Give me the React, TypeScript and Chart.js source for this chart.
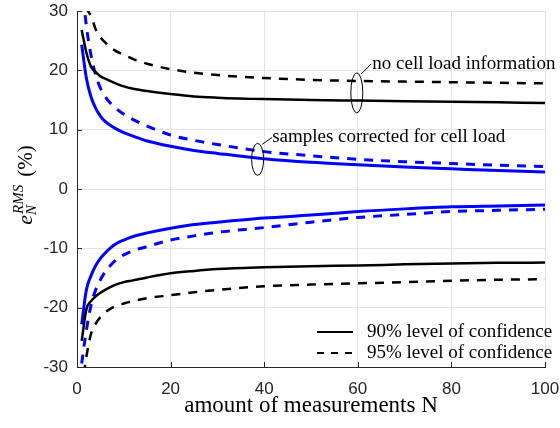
import React, { useEffect, useRef } from "react";
import { Chart, registerables } from "chart.js";

Chart.register(...registerables);

const nValues = [1, 2, 3, 4, 5, 6, 8, 10, 12, 15, 20, 25, 30, 40, 50, 60, 70, 80, 90, 100];

const noLoad90Upper = [26.8, 23.0, 20.6, 19.7, 19.0, 18.6, 17.9, 17.3, 16.9, 16.5, 16.0, 15.6, 15.4, 15.15, 15.0, 14.9, 14.8, 14.7, 14.6, 14.5];
const noLoad95Upper = [45, 31.5, 29.2, 26.9, 25.6, 24.7, 23.4, 22.6, 21.9, 21.1, 20.2, 19.6, 19.2, 18.7, 18.4, 18.2, 18.1, 18.0, 17.9, 17.8];
const load90Upper = [24.3, 18.7, 15.5, 13.6, 12.3, 11.4, 10.3, 9.5, 8.9, 8.1, 7.2, 6.5, 6.0, 5.1, 4.5, 4.1, 3.7, 3.4, 3.1, 2.85];
const load95Upper = [35, 27.5, 22.5, 19.2, 17.0, 15.6, 13.8, 12.6, 11.7, 10.6, 9.1, 8.2, 7.5, 6.3, 5.6, 5.0, 4.6, 4.3, 4.0, 3.8];
const load90Lower = [-22.8, -17.0, -14.6, -12.9, -11.7, -10.8, -9.4, -8.6, -8.0, -7.4, -6.6, -6.0, -5.6, -4.9, -4.4, -3.8, -3.35, -3.0, -2.85, -2.7];
const load95Lower = [-29.4, -23.8, -19.6, -17.0, -15.3, -14.0, -12.2, -11.1, -10.4, -9.7, -8.6, -7.9, -7.3, -6.5, -5.6, -4.8, -4.3, -3.8, -3.6, -3.4];
const noLoad90Lower = [-25.6, -20.3, -18.9, -18.1, -17.5, -17.0, -16.2, -15.7, -15.4, -14.9, -14.2, -13.8, -13.5, -13.2, -13.0, -12.9, -12.7, -12.55, -12.45, -12.4];
const noLoad95Lower = [-34, -28.3, -24.4, -22.7, -21.6, -20.8, -19.8, -19.3, -18.9, -18.4, -17.9, -17.4, -17.0, -16.4, -16.1, -15.9, -15.7, -15.45, -15.3, -15.2];

const xTickValues = [0, 20, 40, 60, 80, 100];
const yTickValues = [-30, -20, -10, 0, 10, 20, 30];

const legendLabels = ["90% level of confidence", "95% level of confidence"];
const annotationNoLoad = "no cell load information";
const annotationLoad = "samples corrected for cell load";
const xTitle = "amount of measurements N";

const SERIF = "'Liberation Serif', 'Times New Roman', serif";
const SANS = "'Liberation Sans', Arial, sans-serif";
const DASH = [9, 8];

const toPoints = (vals: number[]) => nValues.map((n, i) => ({ x: n, y: vals[i] }));

const overlayPlugin = {
  id: "overlay",
  afterDraw(chart: any) {
    const { ctx, chartArea } = chart;
    const xs = chart.scales.x;
    const ys = chart.scales.y;
    ctx.save();
    // inward ticks
    ctx.strokeStyle = "#262626";
    ctx.lineWidth = 1;
    ctx.beginPath();
    xTickValues.forEach((v) => {
      const px = Math.round(xs.getPixelForValue(v)) + 0.5;
      ctx.moveTo(px, chartArea.bottom);
      ctx.lineTo(px, chartArea.bottom - 5);
    });
    yTickValues.forEach((v) => {
      const py = Math.round(ys.getPixelForValue(v)) + 0.5;
      ctx.moveTo(chartArea.left, py);
      ctx.lineTo(chartArea.left + 5, py);
    });
    ctx.stroke();

    // annotations
    ctx.strokeStyle = "#000";
    ctx.fillStyle = "#000";
    ctx.lineWidth = 1;
    const e1x = xs.getPixelForValue(60) - 1;
    const e1y = ys.getPixelForValue(16.2);
    ctx.beginPath();
    ctx.ellipse(e1x, e1y, 6, 20, 0, 0, Math.PI * 2);
    ctx.stroke();
    ctx.beginPath();
    ctx.moveTo(e1x + 4.5, e1y - 19);
    ctx.lineTo(e1x + 14.5, e1y - 29);
    ctx.stroke();
    ctx.font = `19px ${SERIF}`;
    ctx.textBaseline = "alphabetic";
    ctx.textAlign = "left";
    ctx.fillText(annotationNoLoad, e1x + 15.5, e1y - 24);

    const e2x = xs.getPixelForValue(38.6);
    const e2y = ys.getPixelForValue(5.0);
    ctx.beginPath();
    ctx.ellipse(e2x, e2y, 6, 16, 0, 0, Math.PI * 2);
    ctx.stroke();
    ctx.beginPath();
    ctx.moveTo(e2x + 4.5, e2y - 15);
    ctx.lineTo(e2x + 14.5, e2y - 22);
    ctx.stroke();
    ctx.fillText(annotationLoad, e2x + 14.5, e2y - 17);

    // legend
    const lx0 = chartArea.right - 228;
    const lx1 = lx0 + 36;
    const ly1 = chartArea.bottom - 35;
    const ly2 = chartArea.bottom - 14;
    ctx.lineWidth = 2;
    ctx.beginPath();
    ctx.moveTo(lx0, ly1);
    ctx.lineTo(lx1, ly1);
    ctx.stroke();
    ctx.setLineDash([7, 7]);
    ctx.beginPath();
    ctx.moveTo(lx0, ly2);
    ctx.lineTo(lx1, ly2);
    ctx.stroke();
    ctx.setLineDash([]);
    ctx.fillText(legendLabels[0], lx1 + 14, ly1 + 5);
    ctx.fillText(legendLabels[1], lx1 + 14, ly2 + 5);

    // y-axis title e_N^{RMS} (%)
    const cx = 32;
    const cy = (chartArea.top + chartArea.bottom) / 2 - 4;
    ctx.translate(cx, cy);
    ctx.rotate(-Math.PI / 2);
    const bigFont = `italic 22px ${SERIF}`;
    const smallFont = `italic 15px ${SERIF}`;
    const normFont = `21px ${SERIF}`;
    ctx.font = bigFont;
    const wE = ctx.measureText("e").width;
    ctx.font = smallFont;
    const wSup = ctx.measureText("RMS").width;
    const wSub = ctx.measureText("N").width;
    ctx.font = normFont;
    const wP = ctx.measureText("(%)").width;
    const gap = 9;
    const total = wE + Math.max(wSup, wSub) + gap + wP;
    let tx = -total / 2;
    ctx.font = bigFont;
    ctx.fillText("e", tx, 0);
    tx += wE;
    ctx.font = smallFont;
    ctx.fillText("RMS", tx + 1, -9);
    ctx.fillText("N", tx, 4);
    tx += Math.max(wSup, wSub) + gap;
    ctx.font = normFont;
    ctx.fillText("(%)", tx, 0);
    ctx.restore();
  },
};

export default function App() {
  const ref = useRef<HTMLCanvasElement | null>(null);
  useEffect(() => {
    if (!ref.current) return;
    const mk = (vals: number[], color: string, dashed: boolean, width: number) => ({
      data: toPoints(vals),
      borderColor: color,
      backgroundColor: color,
      borderWidth: width,
      borderDash: dashed ? DASH : [],
      pointRadius: 0,
      fill: false,
      cubicInterpolationMode: "monotone" as const,
    });
    const chart = new Chart(ref.current, {
      type: "line",
      data: {
        datasets: [
          mk(noLoad95Upper, "#000000", true, 2.5),
          mk(noLoad90Upper, "#000000", false, 2.5),
          mk(noLoad95Lower, "#000000", true, 2.5),
          mk(noLoad90Lower, "#000000", false, 2.5),
          mk(load95Upper, "#0000ff", true, 3),
          mk(load90Upper, "#0000ff", false, 3),
          mk(load95Lower, "#0000ff", true, 3),
          mk(load90Lower, "#0000ff", false, 3),
        ],
      },
      options: {
        animation: false,
        responsive: false,
        devicePixelRatio: 1,
        layout: { padding: { top: 11, right: 15, left: 0, bottom: 0 } },
        plugins: { legend: { display: false }, tooltip: { enabled: false } },
        scales: {
          x: {
            type: "linear",
            min: 0,
            max: 100,
            afterBuildTicks: (s: any) => {
              s.ticks = xTickValues.map((v) => ({ value: v }));
            },
            afterFit: (s: any) => {
              s.height = 61;
              s.paddingLeft = 0;
              s.paddingRight = 0;
            },
            grid: { color: "#e3e3e3", lineWidth: 1, drawTicks: false },
            border: { display: true, color: "#262626", width: 1 },
            ticks: {
              padding: 12,
              color: "#262626",
              font: { family: SANS, size: 17 },
              maxRotation: 0,
            },
            title: {
              display: true,
              text: xTitle,
              color: "#000",
              font: { family: SERIF, size: 23 },
              padding: { top: 0, bottom: 8 },
            },
          },
          y: {
            type: "linear",
            min: -30,
            max: 30,
            afterBuildTicks: (s: any) => {
              s.ticks = yTickValues.map((v) => ({ value: v }));
            },
            afterFit: (s: any) => {
              s.width = 77;
              s.paddingTop = 0;
              s.paddingBottom = 0;
            },
            grid: { color: "#e3e3e3", lineWidth: 1, drawTicks: false },
            border: { display: true, color: "#262626", width: 1 },
            ticks: {
              padding: 9,
              color: "#262626",
              font: { family: SANS, size: 17 },
            },
          },
        },
      },
      plugins: [overlayPlugin],
    });
    return () => chart.destroy();
  }, []);
  return (
    <div style={{ position: "absolute", left: 0, top: 0, width: 560, height: 428, background: "#fff" }}>
      <canvas ref={ref} width={560} height={428} />
    </div>
  );
}
